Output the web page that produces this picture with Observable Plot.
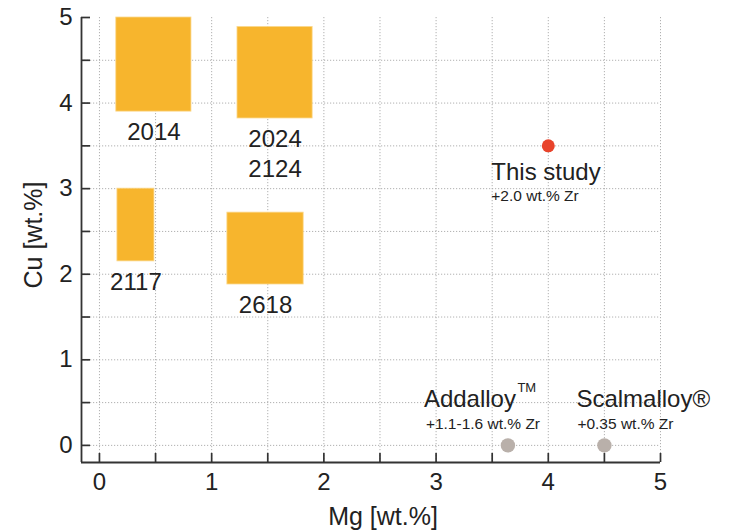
<!DOCTYPE html>
<html>
<head>
<meta charset="utf-8">
<script src="https://cdn.jsdelivr.net/npm/d3@7"></script>
<script src="https://cdn.jsdelivr.net/npm/@observablehq/plot@0.6"></script>
<style>
  html, body { margin: 0; padding: 0; background: #fff; }
  #chart { width: 730px; height: 530px; }
</style>
</head>
<body>
<div id="chart"></div>
<script>
// Wrought Al-Cu-Mg alloy composition windows (Mg and Cu in wt.%)
const alloyNames = ["2014", "2024\n2124", "2117", "2618"];
const alloyMgLow  = [0.15, 1.23, 0.16, 1.14];
const alloyMgHigh = [0.82, 1.90, 0.49, 1.82];
const alloyCuLow  = [3.90, 3.82, 2.15, 1.88];
const alloyCuHigh = [5.00, 4.89, 3.00, 2.72];

// Zr-modified alloys shown as single compositions
const pointNames = ["This study", "Addalloy", "Scalmalloy®"];
const pointMarksSup = ["", "TM", ""];
const pointNotes = ["+2.0 wt.% Zr", "+1.1-1.6 wt.% Zr", "+0.35 wt.% Zr"];
const pointMg = [4.0, 3.64, 4.5];
const pointCu = [3.5, 0, 0];

// Axis ticks
const majorTicks = [0, 1, 2, 3, 4, 5];
const halfTicks = [0, 0.5, 1, 1.5, 2, 2.5, 3, 3.5, 4, 4.5, 5];
const yGridTicks = [0, 0.5, 1, 1.5, 2, 2.5, 3, 3.5, 4, 4.5];

const xDomain = [-0.16, 5];
const yDomain = [-0.2, 5];

const alloys = alloyNames.map((name, i) => ({
  name, x1: alloyMgLow[i], x2: alloyMgHigh[i], y1: alloyCuLow[i], y2: alloyCuHigh[i],
  xc: (alloyMgLow[i] + alloyMgHigh[i]) / 2
}));
const points = pointNames.map((name, i) => ({
  name, sup: pointMarksSup[i], note: pointNotes[i], mg: pointMg[i], cu: pointCu[i]
}));

const ink = "#222";
const axisInk = "#333";
const font = "'Liberation Sans', Arial, Helvetica, sans-serif";
const intFormat = d => String(d);

// Label placement for each point
const labelOffsets = [
  {dx: -57, dxNote: -57, dxSup: 0, dy: 17, dyNote: 44, dySup: 0},
  {dx: -84, dxNote: -82, dxSup: 9.5, dy: -55, dyNote: -27.5, dySup: -62.5},
  {dx: -28, dxNote: -27, dxSup: 0, dy: -55, dyNote: -27.5, dySup: 0}
];
const pointColors = ["#e8432b", "#b9b0aa"];
const pointRadius = [6.5, 7.2, 7.2];

const pointMarks = points.flatMap((p, i) => {
  const o = labelOffsets[i];
  const marks = [
    Plot.dot([p], {x: "mg", y: "cu", r: pointRadius[i], fill: i === 0 ? pointColors[0] : pointColors[1], stroke: null}),
    Plot.text([p], {x: "mg", y: "cu", text: "name", textAnchor: "start", lineAnchor: "top",
      dx: o.dx, dy: o.dy, fontSize: 24, fill: ink}),
    Plot.text([p], {x: "mg", y: "cu", text: "note", textAnchor: "start", lineAnchor: "top",
      dx: o.dxNote, dy: o.dyNote, fontSize: 15.5, fill: ink})
  ];
  if (p.sup) {
    marks.push(Plot.text([p], {x: "mg", y: "cu", text: "sup", textAnchor: "start", lineAnchor: "top",
      dx: o.dxSup, dy: o.dySup, fontSize: 13, fill: ink}));
  }
  return marks;
});

const chart = Plot.plot({
  width: 730,
  height: 530,
  marginLeft: 81,
  marginRight: 70,
  marginTop: 17,
  marginBottom: 68,
  x: {domain: xDomain},
  y: {domain: yDomain},
  style: {fontFamily: font, fontSize: "24px", color: ink, background: "#fff"},
  marks: [
    // dotted grid every 0.5 wt.%
    Plot.gridX(halfTicks, {stroke: "#a8a8a8", strokeOpacity: 1, strokeWidth: 0.9, strokeDasharray: "1.2,1.8"}),
    Plot.gridY(yGridTicks, {stroke: "#a8a8a8", strokeOpacity: 1, strokeWidth: 0.9, strokeDasharray: "1.2,1.8"}),

    // composition windows
    Plot.rect(alloys, {x1: "x1", x2: "x2", y1: "y1", y2: "y2", fill: "#f7b52d", stroke: "#fbd98f", strokeWidth: 0.8}),
    Plot.text(alloys, {x: "xc", y: "y1", text: "name", lineAnchor: "top", lineHeight: 1.25,
      dy: 7.3, fontSize: 24, fill: ink}),

    // axis lines on the left and bottom
    Plot.ruleX([xDomain[0]], {stroke: axisInk, strokeWidth: 1.8}),
    Plot.ruleY([yDomain[0]], {stroke: axisInk, strokeWidth: 1.8}),

    // inward ticks
    Plot.axisX(halfTicks, {tickSize: 9, insetBottom: 9, fill: "none", stroke: axisInk, strokeWidth: 1.7, label: null}),
    Plot.axisY(halfTicks, {tickSize: 9, insetLeft: 9, fill: "none", stroke: axisInk, strokeWidth: 1.7, label: null}),

    // tick labels
    Plot.axisX(majorTicks, {tickSize: 0, tickPadding: 10, tickFormat: intFormat, fontSize: 24, fill: ink, label: null}),
    Plot.axisY(majorTicks, {tickSize: 0, tickPadding: 9, tickFormat: intFormat, fontSize: 24, fill: ink, label: null}),

    // axis titles
    Plot.text(["Mg [wt.%]"], {frameAnchor: "bottom", textAnchor: "middle", lineAnchor: "middle",
      dx: 12, dy: 54.5, fontSize: 25, fill: ink}),
    Plot.text(["Cu [wt.%]"], {frameAnchor: "left", textAnchor: "middle", lineAnchor: "middle",
      rotate: -90, dx: -48, dy: -5, fontSize: 25, fill: ink}),

    ...pointMarks
  ]
});

document.getElementById("chart").appendChild(chart);
</script>
</body>
</html>
